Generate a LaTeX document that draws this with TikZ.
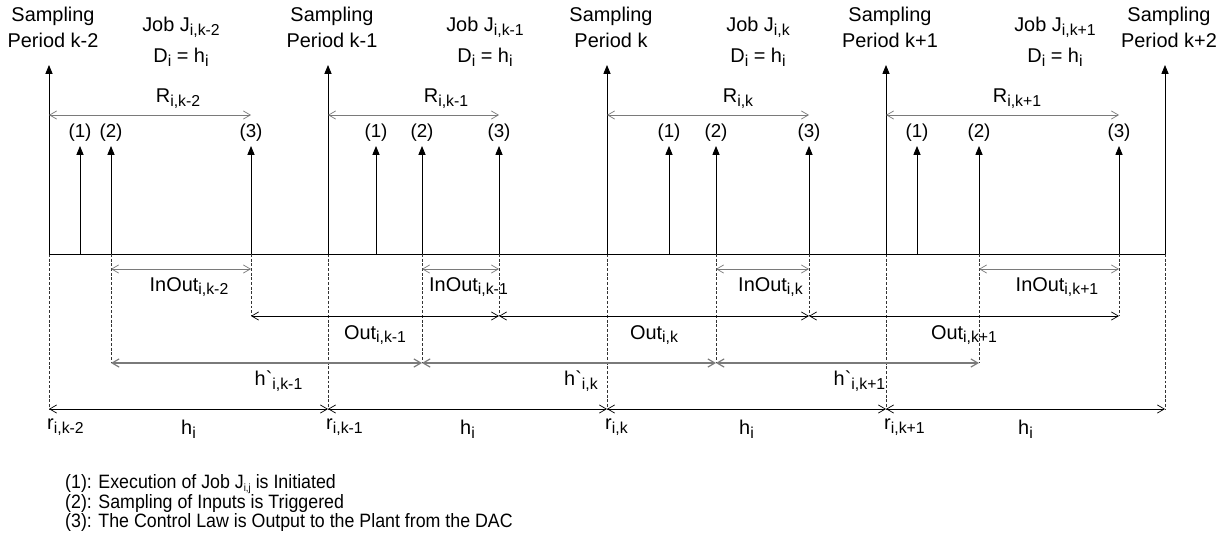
\documentclass[tikz,border=0pt]{standalone}
\usepackage{fontspec}
\setmainfont{Liberation Sans}
\newfontfamily\legendfont{Liberation Sans}[FakeStretch=0.92]
\usepackage{tikz}
\usetikzlibrary{arrows.meta,calc}
\definecolor{tgray}{HTML}{7A7A7A}
\definecolor{tdark}{HTML}{333333}
\newcommand\tsub[1]{\raisebox{-3.2pt}{\fontsize{13.5}{14}\selectfont #1}}
\tikzset{
  tup/.style={-{Triangle[length=7.5pt,width=6pt]}, black, line width=0.7pt},
  tbase/.style={black, line width=0.7pt},
  tdash/.style={tdark, dash pattern=on 2.5pt off 1.5pt, line width=0.5pt},
  tspan/.style={{Straight Barb[length=6pt,width=7pt]}-{Straight Barb[length=6pt,width=7pt]},
                line width=0.6pt},
  tlbl/.style={font=\fontsize{17}{22}\selectfont, inner sep=0pt, align=center},
  tnum/.style={font=\fontsize{16}{18}\selectfont, inner sep=0pt},
  tleg/.style={font=\legendfont\fontsize{16.5}{15.9}\selectfont, inner sep=0pt,
               align=left, anchor=west},
}

\begin{document}
\begin{tikzpicture}[x=0.03cm,y=-0.03cm]
  \useasboundingbox (0,0) rectangle (1231,550);

  % --- rows ---
  \coordinate (rowtop) at (0,65);
  \coordinate (rowjob) at (0,146);
  \coordinate (rowR)   at (0,115);
  \coordinate (rowIO)  at (0,269);
  \coordinate (rowOut) at (0,316);
  \coordinate (rowH)   at (0,363);
  \coordinate (rowr)   at (0,409);

  % --- sampling instants ---
  \foreach \n/\x/\lab in {0/49/k-2,1/328/k-1,2/607/k,3/886/k+1,4/1165/k+2}{
    \coordinate (s\n) at (\x,254);
    \draw[tdash] (s\n) -- (s\n |- rowr);
    \draw[tup] (s\n) -- (s\n |- rowtop);
    \node[tlbl] (sl\n) at (\x+4,27) {Sampling\\Period \lab};
  }
  \draw[tbase] (s0) -- (s4);

  % --- jobs ---
  \foreach \n/\a/\b/\c/\lab/\jx/\rx in {0/80/111/251/k-2/181/178,
      1/376/422/499/k-1/485/446, 2/669/716/809/k/758/738,
      3/917/979/1119/k+1/1055/1017}{
    \coordinate (a\n) at (\a,254);
    \coordinate (b\n) at (\b,254);
    \coordinate (c\n) at (\c,254);
    \draw[tdash] (b\n) -- (b\n |- rowH);
    \draw[tdash] (c\n) -- (c\n |- rowOut);
    \draw[tup] (a\n) -- (a\n |- rowjob);
    \draw[tup] (b\n) -- (b\n |- rowjob);
    \draw[tup] (c\n) -- (c\n |- rowjob);
    \node[tnum] (n1\n) at (\a,133) {(1)};
    \node[tnum] (n2\n) at (\b,133) {(2)};
    \node[tnum] (n3\n) at (\c,133) {(3)};
    \node[tlbl] (jn\n) at (\jx,27) {Job J\tsub{i,\lab}};
    \node[tlbl] (jd\n) at (\jx,57) {D\tsub{i} = h\tsub{i}};
    % response time
    \draw[tspan, tgray] (s\n |- rowR) -- (c\n |- rowR);
    \node[tlbl] (rl\n) at (\rx,99) {R\tsub{i,\lab}};
    % input-output latency
    \draw[tspan, tgray] (b\n |- rowIO) -- (c\n |- rowIO);
    \node[tlbl] (io\n) at ($(b\n)!0.5!(c\n)+(8,33)$) {InOut\tsub{i,\lab}};
  }

  % --- output and sampling intervals ---
  \foreach \p/\n/\lab in {0/1/k-1,1/2/k,2/3/k+1}{
    \draw[tspan, black] (c\p |- rowOut) -- (c\n |- rowOut);
    \node[tlbl] (ol\n) at ($(c\p)!0.5!(c\n)+(0,81)$) {Out\tsub{i,\lab}};
    \draw[tspan, tgray, line width=1pt] (b\p |- rowH) -- (b\n |- rowH);
    \node[tlbl] (hl\n) at ($(b\p)!0.5!(b\n)+(12,127)$) {h\textasciigrave\tsub{i,\lab}};
  }

  % --- periods ---
  \foreach \p/\n/\lab in {0/1/k-2,1/2/k-1,2/3/k,3/4/k+1}{
    \draw[tspan, black] (s\p |- rowr) -- (s\n |- rowr);
    \node[tlbl, anchor=west] (rr\p) at ($(s\p)+(-2,173)$) {r\tsub{i,\lab}};
    \node[tlbl] (hh\p) at ($(s\p)!0.5!(s\n)+(0,175)$) {h\tsub{i}};
  }

  % --- legend ---
  \node[tleg] (leg) at (65,503) {(1): Execution of Job J{\fontsize{9}{9}\selectfont\raisebox{-2.5pt}{i,j}} is Initiated\\
    (2): Sampling of Inputs is Triggered\\
    (3): The Control Law is Output to the Plant from the DAC};
\end{tikzpicture}
\end{document}
